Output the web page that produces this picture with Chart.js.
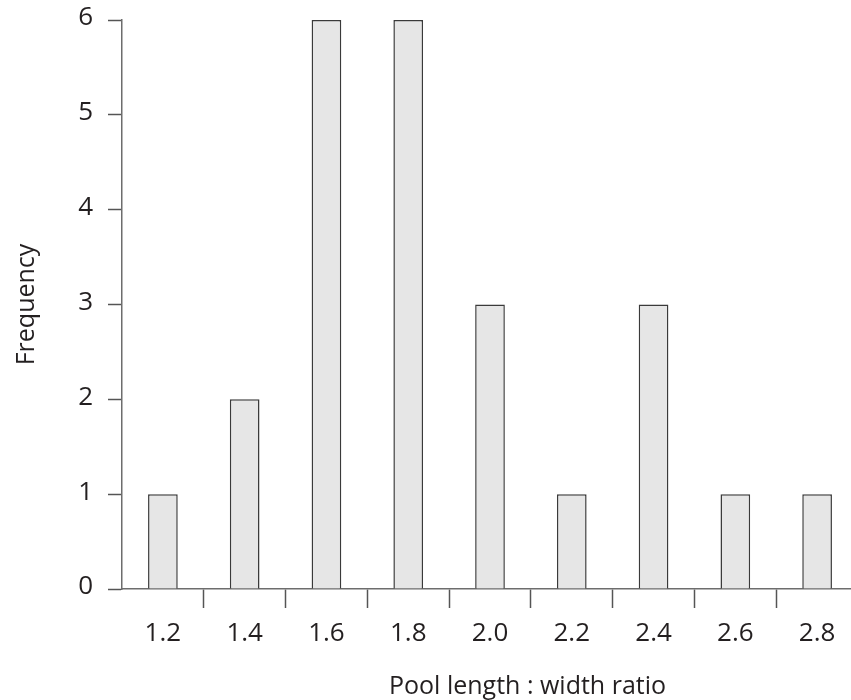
<!DOCTYPE html>
<html>
<head>
<meta charset="utf-8">
<script src="https://cdn.jsdelivr.net/npm/chart.js@4/dist/chart.umd.min.js"></script>
<style>
  html, body { margin: 0; padding: 0; background: #fff; overflow: hidden; }
  canvas { display: block; }
</style>
</head>
<body>
<canvas id="chart" width="858" height="700"></canvas>
<script>
// Histogram of pool length-to-width ratios
const ratioLabels = ['1.2', '1.4', '1.6', '1.8', '2.0', '2.2', '2.4', '2.6', '2.8'];
const frequencies = [1, 2, 6, 6, 3, 1, 3, 1, 1];
const yTickValues = [0, 1, 2, 3, 4, 5, 6];
const xTitleText = 'Pool length : width ratio';
const yTitleText = 'Frequency';

const FONT_FAMILY = "'Open Sans', 'Noto Sans', sans-serif";
const TEXT_COLOR = '#231f20';
const AXIS_COLOR = '#6d6d6d';
const TICK_COLOR = '#555555';

// x-axis title is drawn by hand so it can sit right of the axis centre
const xTitlePlugin = {
  id: 'xTitle',
  afterDraw(chart) {
    const { ctx, chartArea } = chart;
    ctx.save();
    ctx.font = `25px ${FONT_FAMILY}`;
    ctx.fillStyle = TEXT_COLOR;
    ctx.textAlign = 'center';
    ctx.textBaseline = 'alphabetic';
    const x = chartArea.left + (chartArea.right - chartArea.left) * 0.551;
    ctx.fillText(xTitleText, x, 694);
    ctx.restore();
  }
};

new Chart(document.getElementById('chart'), {
  type: 'bar',
  data: {
    labels: ratioLabels,
    datasets: [{
      data: frequencies,
      backgroundColor: '#e6e6e6',
      borderColor: '#3a3a3a',
      borderWidth: 1.5,
      categoryPercentage: 1,
      barPercentage: 0.363
    }]
  },
  options: {
    responsive: false,
    devicePixelRatio: 1,
    animation: false,
    layout: { padding: { top: 20, left: 0, right: 0, bottom: 0 } },
    plugins: {
      legend: { display: false },
      tooltip: { enabled: false }
    },
    scales: {
      x: {
        afterFit(scale) { scale.height = 111; },
        grid: {
          offset: true,
          drawOnChartArea: false,
          drawTicks: true,
          tickLength: 19,
          tickWidth: 1.5,
          tickColor: (c) => (c.index === 0 ? 'rgba(0,0,0,0)' : TICK_COLOR)
        },
        border: { display: true, color: AXIS_COLOR, width: 1.5 },
        ticks: {
          color: TEXT_COLOR,
          font: { family: FONT_FAMILY, size: 26 },
          padding: 10,
          maxRotation: 0
        }
      },
      y: {
        min: 0,
        max: 6,
        afterFit(scale) {
          scale.width = 122;
          scale.paddingTop = 0;
          scale.paddingBottom = 0;
        },
        afterBuildTicks(scale) { scale.ticks = yTickValues.map(v => ({ value: v })); },
        grid: {
          drawOnChartArea: false,
          drawTicks: true,
          tickLength: 14,
          tickWidth: 1.5,
          tickColor: TICK_COLOR
        },
        border: { display: true, color: AXIS_COLOR, width: 1.5 },
        ticks: {
          color: TEXT_COLOR,
          font: { family: FONT_FAMILY, size: 26 },
          padding: 15,
          labelOffset: -2
        },
        title: {
          display: true,
          text: yTitleText,
          color: TEXT_COLOR,
          font: { family: FONT_FAMILY, size: 25 },
          padding: { top: 12, bottom: 0 }
        }
      }
    }
  },
  plugins: [xTitlePlugin]
});
</script>
</body>
</html>
